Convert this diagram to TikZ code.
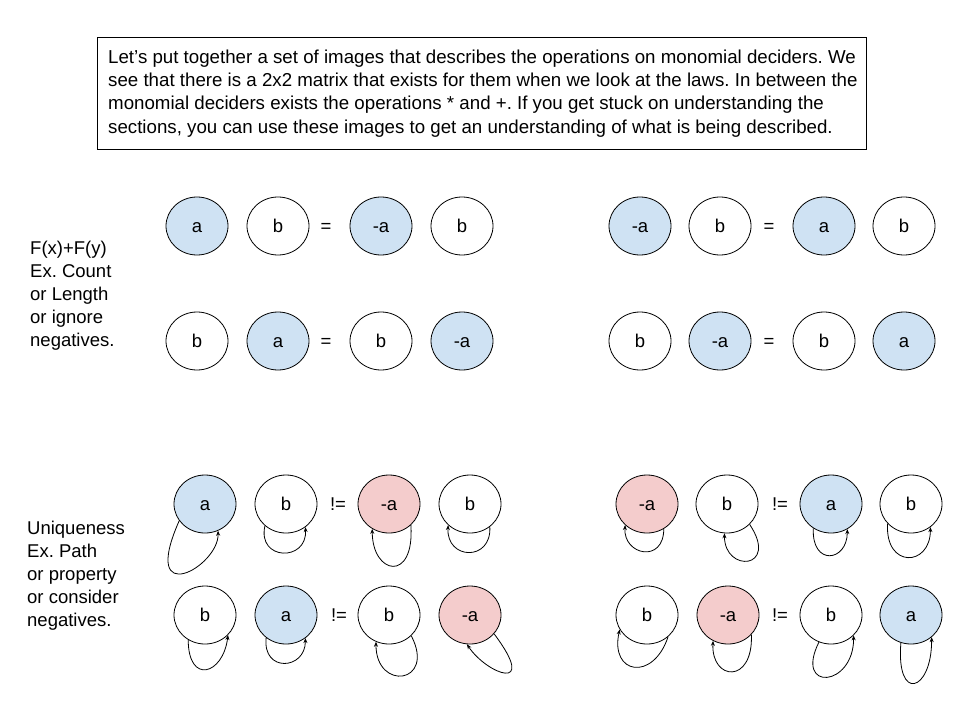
\documentclass[tikz,border=0pt]{standalone}
\usepackage{fontspec}
\setmainfont{Liberation Sans}
\usetikzlibrary{arrows.meta,shapes.geometric}

\definecolor{decblue}{HTML}{CFE2F3}
\definecolor{decpink}{HTML}{F4CCCC}

\begin{document}
\frenchspacing
\begin{tikzpicture}[x=1pt,y=-1pt,font=\fontsize{18.5}{23}\selectfont,
  dec/.style={ellipse,draw,line width=0.8pt,minimum width=62pt,minimum height=58pt,
    inner sep=0pt,text height=12pt,text depth=0pt},
  rel/.style={inner sep=0pt,text height=12pt,text depth=0pt},
  selfloop/.style={line width=0.8pt,-{Stealth[length=5pt,width=4pt]}}]
  \useasboundingbox (0,0) rectangle (960,720);

  % note at the top
  \node[draw,line width=0.9pt,anchor=north west,minimum width=769pt,
        minimum height=112pt] (notebox) at (97,37) {};
  \node[anchor=west,align=left,inner sep=0pt,font=\fontsize{18.7}{23.3}\selectfont] (note)
    at ([xshift=11pt]notebox.west)
    {Let’s put together a set of images that describes the operations on monomial deciders. We\\
     see that there is a 2x2 matrix that exists for them when we look at the laws. In between the\\
     monomial deciders exists the operations * and +. If you get stuck on understanding the\\
     sections, you can use these images to get an understanding of what is being described.};

  % side labels
  \node[anchor=west,align=left,inner sep=0pt] (addlab) at (30,296)
    {F(x)+F(y)\\Ex. Count\\or Length\\or ignore\\negatives.};
  \node[anchor=west,align=left,inner sep=0pt] (unilab) at (27,576)
    {Uniqueness\\Ex. Path\\or property\\or consider\\negatives.};

  % deciders
  \foreach \n/\x/\y/\lab/\fc in {
      A1/197/226/a/decblue, A2/278/226/b/white, A3/381/226/-a/decblue, A4/462/226/b/white,
      B1/197/341/b/white, B2/278/341/a/decblue, B3/381/341/b/white, B4/462/341/-a/decblue,
      C1/640/226/-a/decblue, C2/720/226/b/white, C3/824/226/a/decblue, C4/904/226/b/white,
      D1/640/341/b/white, D2/720/341/-a/decblue, D3/824/341/b/white, D4/904/341/a/decblue,
      E1/205/504/a/decblue, E2/286/504/b/white, E3/389/504/-a/decpink, E4/470/504/b/white,
      F1/205/615/b/white, F2/286/615/a/decblue, F3/389/615/b/white, F4/470/615/-a/decpink,
      G1/647/504/-a/decpink, G2/727/504/b/white, G3/831/504/a/decblue, G4/911/504/b/white,
      H1/647/615/b/white, H2/728/615/-a/decpink, H3/831/615/b/white, H4/911/615/a/decblue}
    \node[dec,fill=\fc] (\n) at (\x,\y) {\lab};

  % relations
  \foreach \n/\x/\y/\r in {eqA/326/226/=, eqB/326/341/=, eqC/769/226/=, eqD/769/341/=,
      neE/338/504/!=, neF/339/615/!=, neG/780/504/!=, neH/780/615/!=}
    \node[rel] (\n) at (\x,\y) {\r};

  % loops under the deciders
  \foreach \n/\s/\e/\ax/\ay/\bx/\by in {
      E1/213/296/-40/90/1/36, E2/226/310/-8/35/2/35, E3/316/236/4/58/0/46, E4/311/224/2/35/-2/35,
      F1/236/319/0/45/-5/40, F2/229/310/-4/35/0/32, F3/317/244/25/48/0/50, F4/322/264/45/60/20/30,
      G1/304/224/0/35/-2/30, G2/318/265/30/45/0/40, G3/234/303/-2/38/0/33, G4/220/310/-3/45/0/40,
      H1/314/208/-15/45/-10/45, H2/320/240/2/50/-2/40, H3/246/318/-25/50/0/52, H4/250/313/-5/60/0/55}
    \draw[selfloop] (\n.\s) .. controls +(\ax,\ay) and +(\bx,\by) .. (\n.\e);
\end{tikzpicture}
\end{document}
